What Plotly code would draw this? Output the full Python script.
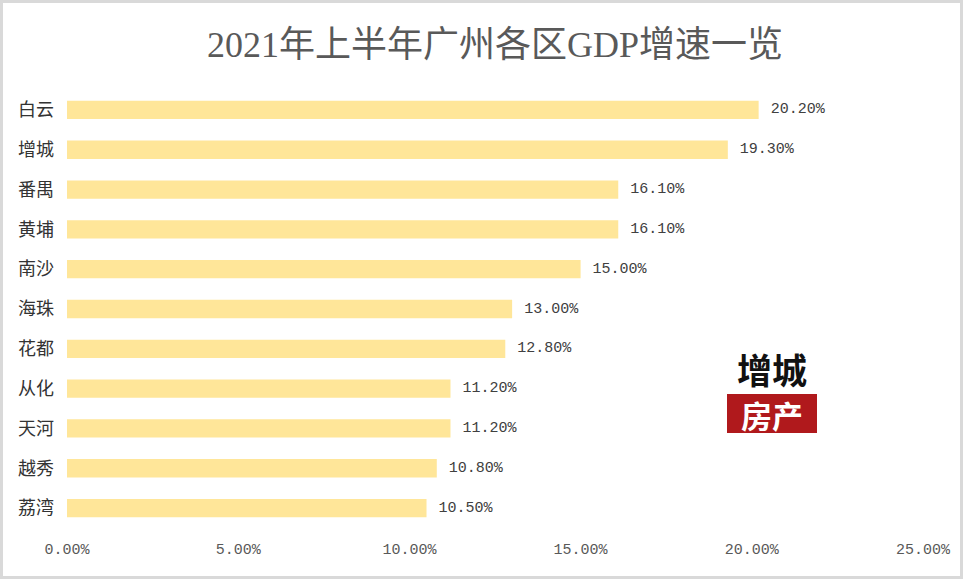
import plotly.graph_objects as go

districts = ["白云", "增城", "番禺", "黄埔", "南沙", "海珠", "花都", "从化", "天河", "越秀", "荔湾"]
growth = [20.2, 19.3, 16.1, 16.1, 15.0, 13.0, 12.8, 11.2, 11.2, 10.8, 10.5]
x_ticks = [0, 5, 10, 15, 20, 25]
x_tick_text = ["0.00%", "5.00%", "10.00%", "15.00%", "20.00%", "25.00%"]

W, H = 963, 579
L, R, T, B = 67, 40, 90, 51
pw, ph = W - L - R, H - T - B

def px(x):
    return (x - L) / pw

def py(y):
    return (H - B - y) / ph

serif = "Liberation Serif, Noto Sans CJK SC, serif"

fig = go.Figure(go.Bar(
    x=growth, y=districts, orientation="h",
    marker=dict(color="#FFE699", line=dict(width=0)),
    text=[f"\u00a0{v:.2f}%" for v in growth], textposition="outside",
    textfont=dict(family="Liberation Mono, Noto Sans CJK SC", size=15, color="#404040"),
    cliponaxis=False, width=0.46,
))

fig.update_layout(
    width=W, height=H,
    margin=dict(l=L, r=R, t=T, b=B),
    paper_bgcolor="white", plot_bgcolor="white",
    showlegend=False,
    title=dict(text="2021年上半年广州各区GDP增速一览", x=0.5, xref="paper", y=1 - 44 / H, yanchor="middle",
               font=dict(family=serif, size=36, color="#595959")),
    xaxis=dict(range=[0, 25], tickvals=x_ticks, ticktext=x_tick_text, showgrid=False, zeroline=False,
               showline=False, ticks="", ticklabelstandoff=10,
               tickfont=dict(family="Liberation Mono, Noto Sans CJK SC", size=15, color="#595959")),
    yaxis=dict(categoryorder="array", categoryarray=districts[::-1], showgrid=False, showline=False,
               ticks="", ticklabelstandoff=12,
               tickfont=dict(family="Noto Sans CJK SC", size=18, color="#333333")),
    shapes=[
        dict(type="rect", xref="paper", yref="paper", x0=px(1.5), x1=px(W - 1.5), y0=py(H - 1.5), y1=py(1.5),
             line=dict(color="#d9d9d9", width=3), fillcolor="rgba(0,0,0,0)", layer="below"),
        dict(type="rect", xref="paper", yref="paper", x0=px(727), x1=px(817), y0=py(433), y1=py(394),
             line=dict(width=0), fillcolor="#B0191C"),
    ],
    annotations=[
        dict(text="<b>增城</b>", xref="paper", yref="paper", x=px(772), y=py(368), showarrow=False,
             font=dict(family="Noto Sans CJK SC", size=35, color="#111111"), xanchor="center", yanchor="middle"),
        dict(text="<b>房产</b>", xref="paper", yref="paper", x=px(772), y=py(414), showarrow=False,
             font=dict(family="Noto Sans CJK SC", size=31, color="white"), xanchor="center", yanchor="middle"),
    ],
)

fig.write_html("out.html", config={"displayModeBar": False},
               post_script="document.body.style.margin='0';document.body.style.padding='0';")
